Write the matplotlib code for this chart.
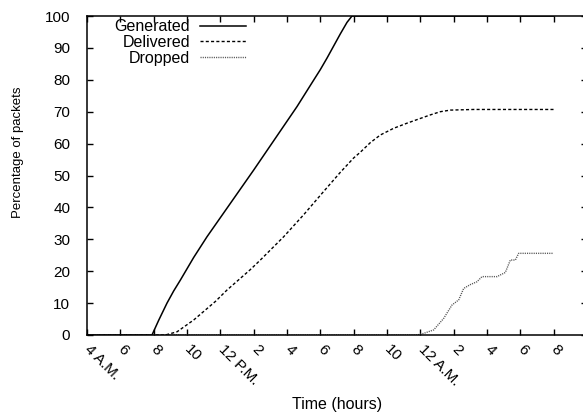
import matplotlib

matplotlib.use("Agg")
import matplotlib.pyplot as plt

plt.rcParams["font.family"] = ["Liberation Sans", "DejaVu Sans"]

# hours since midnight of day 1 (4 = 4 A.M., 24 = midnight, 32 = 8 A.M. next day)
gen_hours = [4, 7.9, 8.3, 8.8, 9.2, 9.6, 10.4, 11.2, 14.0, 16.6, 17.6,
             18.0, 18.4, 18.8, 19.2, 19.6, 19.9, 32]
gen_pct = [0, 0, 4.6, 10.0, 13.8, 17.2, 24.3, 30.8, 51.7, 71.6, 79.9,
           83.2, 86.8, 90.6, 94.4, 98.0, 100, 100]

del_hours = [4, 8.7, 9.4, 10.4, 11.7, 12.4, 13.8, 14.4, 15.8, 17.0, 18.2,
             19.2, 20.0, 20.4, 21.0, 21.6, 22.4, 23.2, 24.6, 25.2, 25.8, 27.2, 32]
del_pct = [0, 0, 1.0, 4.7, 10.5, 14.1, 20.5, 23.5, 30.8, 37.7, 45,
           51, 55.5, 57.3, 60.3, 62.7, 64.8, 66.4, 69.0, 70.0, 70.5, 70.7, 70.7]

drop_hours = [4, 23.8, 24.2, 24.8, 25.4, 25.9, 26.3, 26.6, 27.0, 27.4, 27.7,
              28.6, 29.1, 29.4, 29.7, 29.9, 32]
drop_pct = [0, 0, 0.5, 1.6, 5.2, 9.4, 11, 14.6, 15.8, 16.7, 18.3,
            18.3, 19.6, 23.5, 23.5, 25.6, 25.6]

tick_hours = list(range(4, 33, 2))
tick_labels = ["4 A.M.", "6", "8", "10", "12 P.M.", "2", "4", "6", "8", "10",
               "12 A.M.", "2", "4", "6", "8"]

fig = plt.figure(figsize=(5.83, 4.2), dpi=100)
ax = fig.add_axes([87 / 583, 85 / 420, 500 / 583, 319 / 420])

ax.plot(gen_hours, gen_pct, color="black", lw=1.1, label="Generated")
ax.plot(del_hours, del_pct, color="black", lw=1.0, dashes=(2.2, 1.6),
        label="Delivered")
ax.plot(drop_hours, drop_pct, color="#555555", lw=1.0, dashes=(0.8, 0.8),
        label="Dropped")

ax.set_xlim(4, 34)
ax.set_ylim(0, 100)
ax.set_yticks(range(0, 101, 10))
ax.set_xticks(tick_hours)
ax.set_xticklabels(tick_labels, rotation=-45, ha="left", va="center",
                   rotation_mode="anchor", fontsize=11)
ax.tick_params(axis="y", labelsize=11, pad=12)
ax.tick_params(axis="x", pad=9)
ax.tick_params(direction="in", top=True, right=True, length=4, width=1)
for s in ax.spines.values():
    s.set_linewidth(1.1)

ax.set_xlabel("Time (hours)", fontsize=11.5)
ax.xaxis.set_label_coords(0.5, -0.195)
ax.set_ylabel("Percentage of packets", fontsize=9.5)
ax.yaxis.set_label_coords(-0.127, 0.574)

ax.legend(loc="upper right", bbox_to_anchor=(0.318, 0.99), frameon=False,
          markerfirst=False, fontsize=11.5, handlelength=2.9,
          handletextpad=0.6, labelspacing=0.05, borderpad=0, borderaxespad=0)

fig.savefig("out.png", dpi=100)
